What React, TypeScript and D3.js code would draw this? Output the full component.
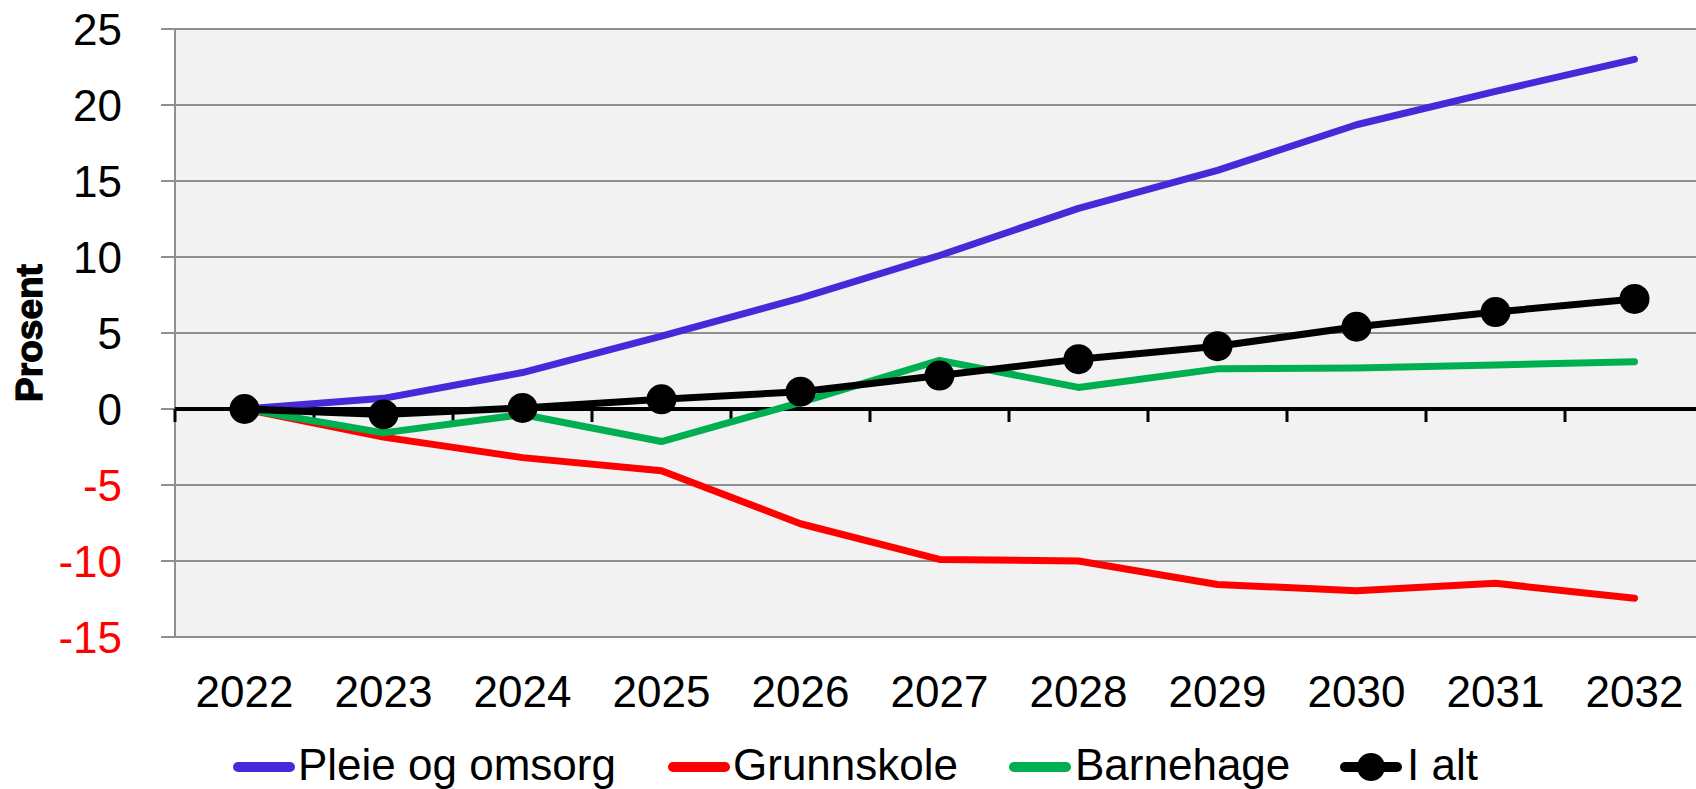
import React from "react";
import * as d3 from "d3";

// data
const years = ["2022", "2023", "2024", "2025", "2026", "2027", "2028", "2029", "2030", "2031", "2032"];
const pleieOgOmsorg = [0, 0.7, 2.4, 4.8, 7.3, 10.1, 13.2, 15.7, 18.7, 20.9, 23.0];
const grunnskole = [0, -1.85, -3.2, -4.06, -7.55, -9.9, -10.0, -11.55, -11.95, -11.47, -12.45];
const barnehage = [0, -1.57, -0.36, -2.14, 0.43, 3.2, 1.42, 2.64, 2.7, 2.9, 3.11];
const iAlt = [0, -0.36, 0.07, 0.64, 1.14, 2.2, 3.28, 4.13, 5.41, 6.38, 7.24];
const yTicks = [25, 20, 15, 10, 5, 0, -5, -10, -15];

const series = [
  { name: "Pleie og omsorg", values: pleieOgOmsorg, color: "#442ad9", markers: false },
  { name: "Grunnskole", values: grunnskole, color: "#ff0000", markers: false },
  { name: "Barnehage", values: barnehage, color: "#00b050", markers: false },
  { name: "I alt", values: iAlt, color: "#000000", markers: true },
];

const W = 1696;
const H = 789;
const FONT = "'Liberation Sans', Arial, Helvetica, sans-serif";

export default function App() {
  const left = 175;
  const top = 29;
  const bottom = 637;
  const step = 139;
  const right = left + step * years.length;

  const x = d3.scaleBand().domain(years).range([left, right]).padding(0);
  const cx = (d: string) => (x(d) as number) + x.bandwidth() / 2;
  const y = d3.scaleLinear().domain([-15, 25]).range([bottom, top]);

  const line = d3
    .line<number>()
    .x((_, i) => cx(years[i]))
    .y((d) => y(d));

  // legend spots
  const legend = [
    { x1: 238, x2: 290, tx: 298 },
    { x1: 673, x2: 725, tx: 733 },
    { x1: 1014, x2: 1066, tx: 1075 },
    { x1: 1345, x2: 1397, tx: 1407 },
  ];
  const legY = 767;

  return (
    <div style={{ position: "absolute", left: 0, top: 0, width: W, height: H, overflow: "hidden" }}>
      <svg width={W} height={H} style={{ display: "block" }} fontFamily={FONT}>
        <rect x={0} y={0} width={W} height={H} fill="#ffffff" />
        <rect x={left} y={top} width={right - left} height={bottom - top} fill="#f2f2f2" />

        {/* gridlines */}
        {yTicks.map((t) => (
          <line key={t} x1={161} x2={right} y1={y(t)} y2={y(t)} stroke="#8f8f8f" strokeWidth={2} />
        ))}
        <line x1={left} x2={left} y1={top} y2={bottom} stroke="#8f8f8f" strokeWidth={2} />

        {/* y labels */}
        {yTicks.map((t) => (
          <text
            key={"l" + t}
            x={122}
            y={y(t)}
            dy="0.36em"
            textAnchor="end"
            fontSize={44}
            fill={t < 0 ? "#ff0000" : "#000000"}
          >
            {t}
          </text>
        ))}

        <text
          transform={`translate(42, 333) rotate(-90)`}
          textAnchor="middle"
          fontSize={37}
          fontWeight="bold"
          stroke="#000"
          strokeWidth={1.2}
        >
          Prosent
        </text>

        {/* zero axis */}
        <line x1={left} x2={right} y1={y(0)} y2={y(0)} stroke="#000" strokeWidth={4} />
        {years.map((yr) => (
          <line
            key={"t" + yr}
            x1={x(yr) as number}
            x2={x(yr) as number}
            y1={y(0)}
            y2={y(0) + 13}
            stroke="#000"
            strokeWidth={3}
          />
        ))}

        {/* series */}
        {series.map((s) => (
          <g key={s.name}>
            <path
              d={line(s.values) || ""}
              fill="none"
              stroke={s.color}
              strokeWidth={7}
              strokeLinecap="round"
              strokeLinejoin="round"
            />
            {s.markers &&
              s.values.map((v, i) => (
                <circle key={i} cx={cx(years[i])} cy={y(v)} r={15} fill={s.color} />
              ))}
          </g>
        ))}

        {/* x labels */}
        {years.map((yr) => (
          <text key={"x" + yr} x={cx(yr)} y={707} textAnchor="middle" fontSize={44} fill="#000">
            {yr}
          </text>
        ))}

        {/* legend */}
        {series.map((s, i) => {
          const p = legend[i];
          return (
            <g key={"lg" + s.name}>
              <line
                x1={p.x1}
                x2={p.x2}
                y1={legY}
                y2={legY}
                stroke={s.color}
                strokeWidth={10}
                strokeLinecap="round"
              />
              {s.markers && <circle cx={(p.x1 + p.x2) / 2} cy={legY} r={14} fill={s.color} />}
              <text x={p.tx} y={780} fontSize={44} fill="#000">
                {s.name}
              </text>
            </g>
          );
        })}
      </svg>
    </div>
  );
}
